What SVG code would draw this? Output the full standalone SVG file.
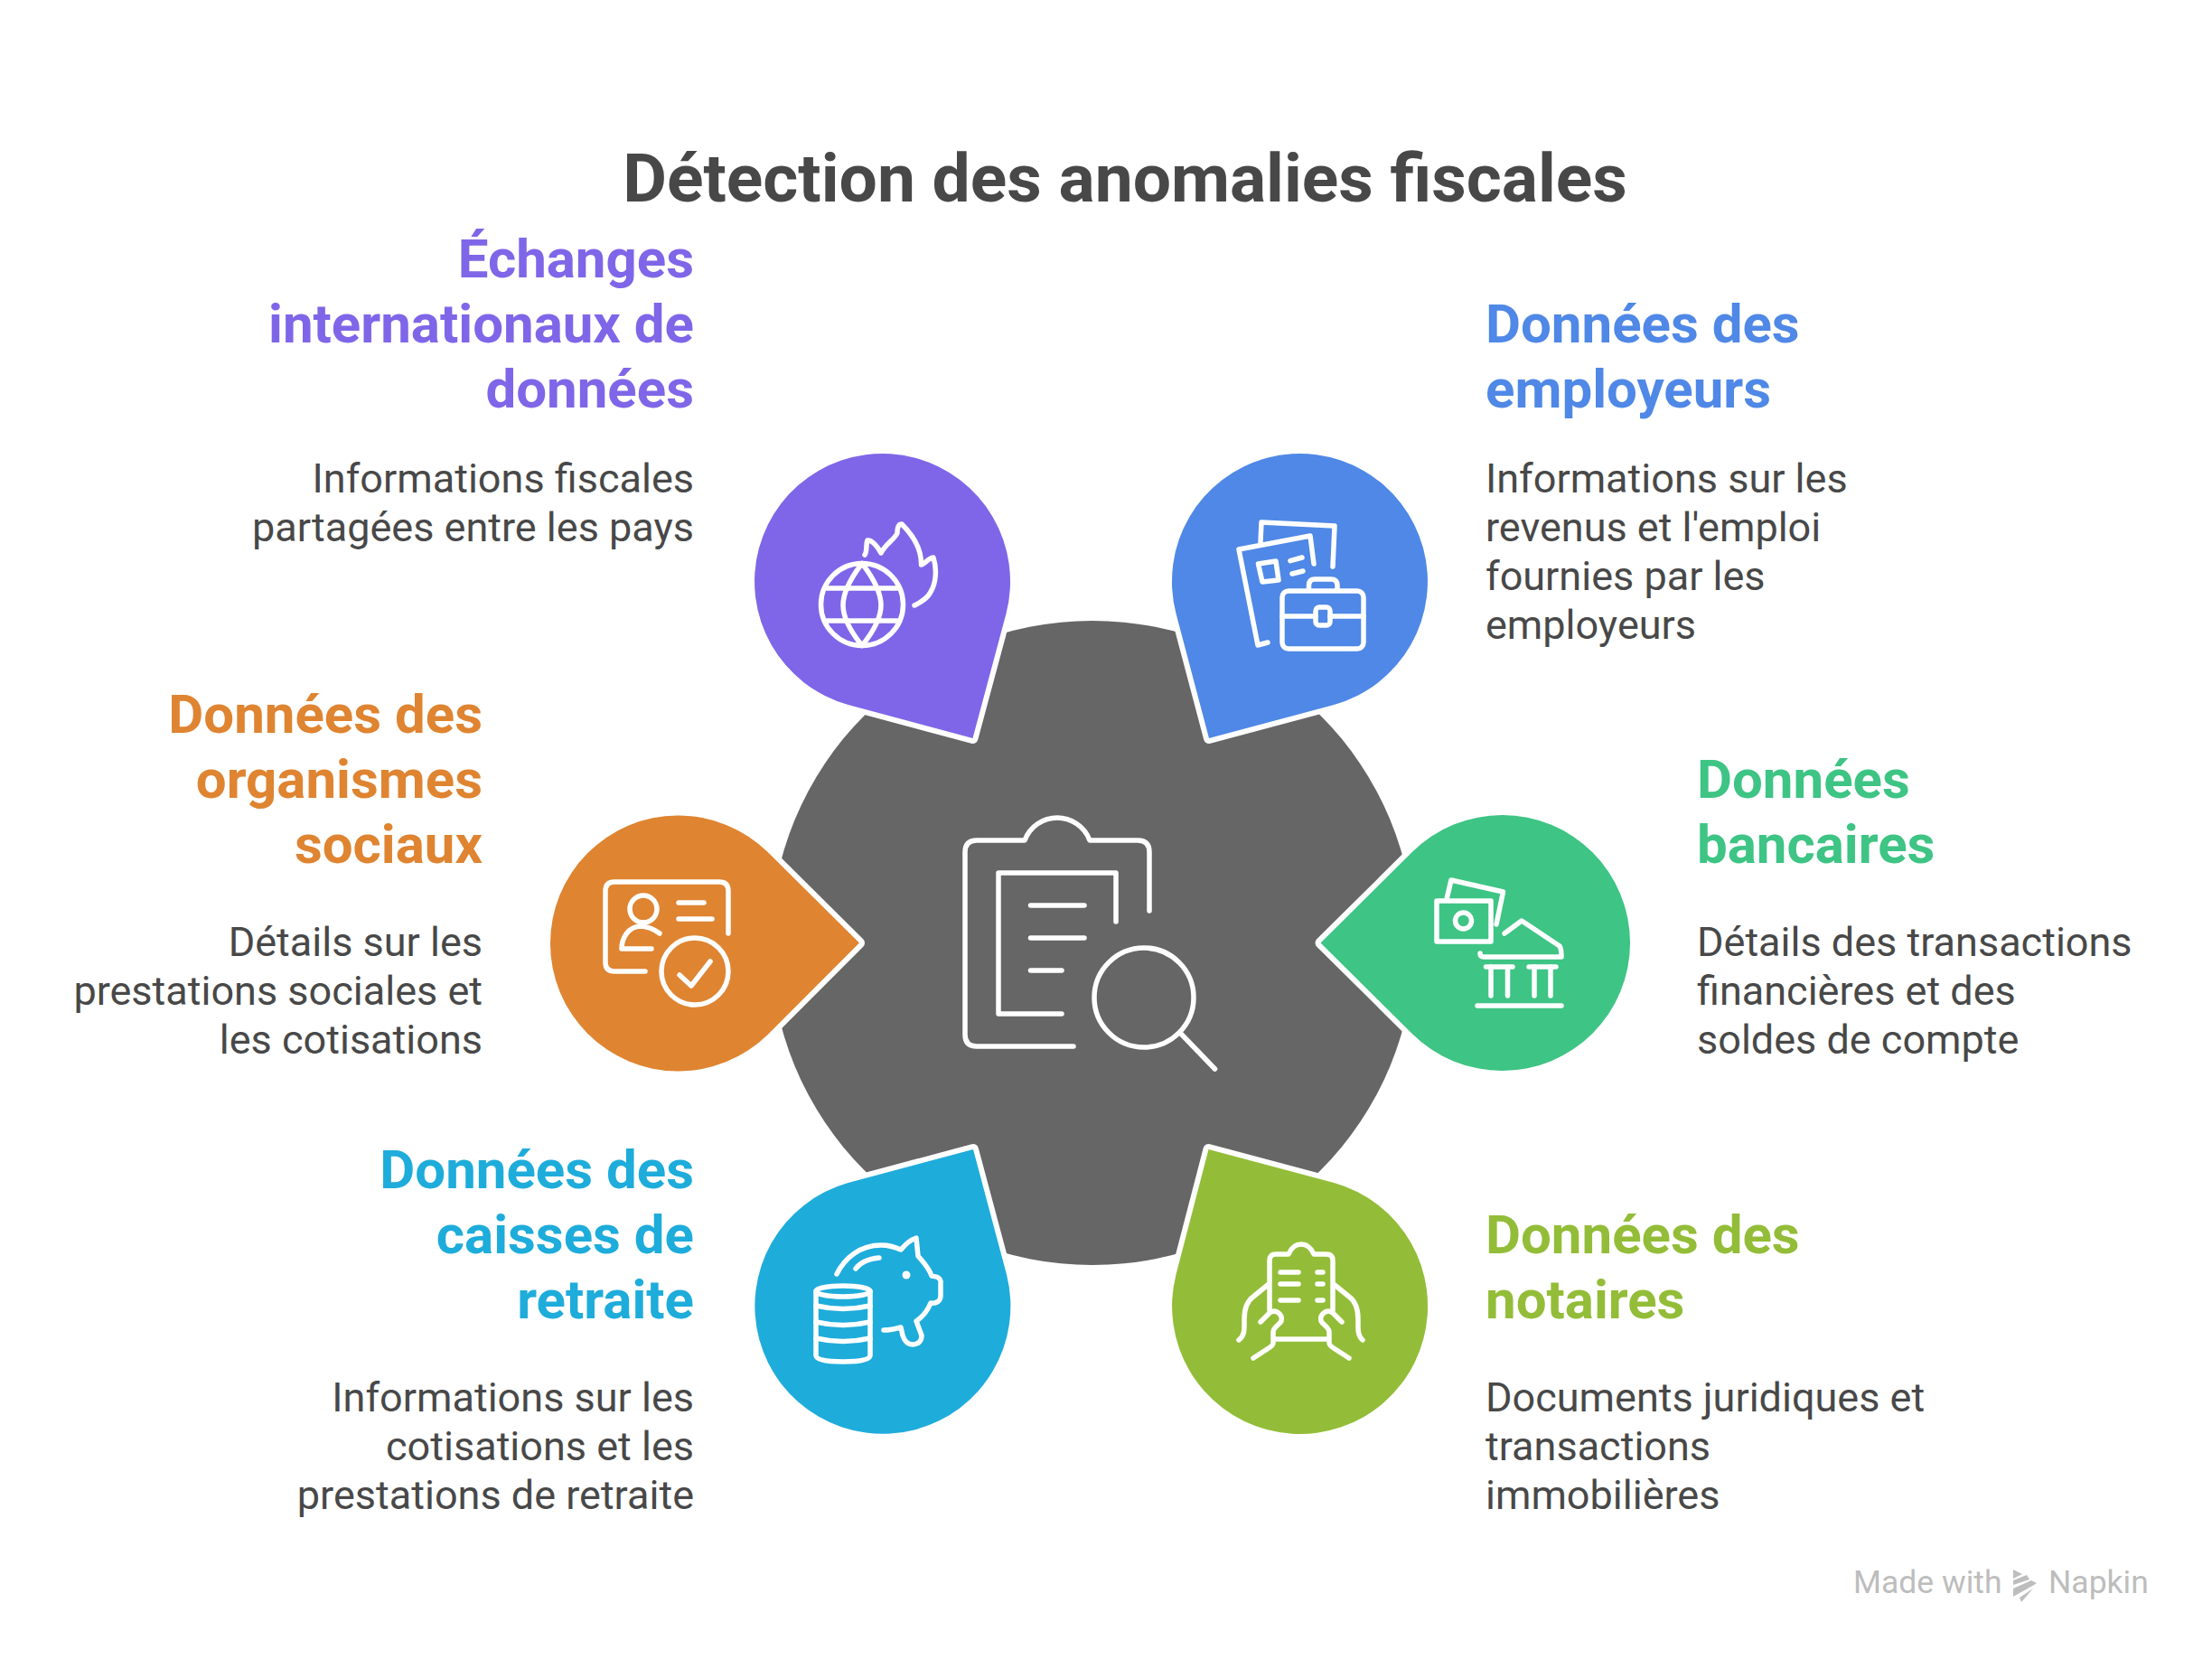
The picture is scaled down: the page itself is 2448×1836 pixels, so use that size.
<svg xmlns="http://www.w3.org/2000/svg" width="2448" height="1836" viewBox="0 0 2448 1836">
<style>
text{font-family:Roboto,"Liberation Sans",sans-serif}
.title{font-size:75px;font-weight:700;fill:#484848;text-anchor:middle}
.h{font-size:60px;font-weight:700}
.b{font-size:45px;font-weight:400;fill:#484848}
.r{text-anchor:end}
.pin{stroke:#fff;stroke-width:12;stroke-linejoin:round;paint-order:stroke}
.i{fill:none;stroke:#fff;stroke-width:5.5;stroke-linecap:round;stroke-linejoin:round}
.foot{font-size:35.5px;fill:#bdbdbd}
</style>
<rect width="2448" height="1836" fill="#fff"/>
<text class="title" x="1245" y="223">Détection des anomalies fiscales</text>

<g id="center">
<circle cx="1209" cy="1043.5" r="356.5" fill="#666"/>
<g class="i">
<path d="M1188,1158H1081Q1068,1158 1068,1145V943Q1068,930 1081,930H1134C1140,914 1155,905 1170,905C1185,905 1200,914 1206,930H1259Q1272,930 1272,943V1008"/>
<path d="M1235,1020V966H1105V1122H1175"/>
<path d="M1140.5,1002H1200M1140.5,1038H1200M1140.5,1074H1175"/>
<circle cx="1266" cy="1104" r="55"/>
<path d="M1306,1143L1344.5,1183"/>
</g>
</g>

<g id="node-echanges">
<path class="pin" fill="#7f66e8" d="M1076.5,817L1113.5,679.1A141.5,141.5 0 1 0 938.7,779.9Z"/>
<g class="i">
<circle cx="954" cy="669" r="45.5"/>
<path d="M954,623.5C926,660 926,680 954,714.5C982,680 982,660 954,623.5Z"/>
<path d="M915,651H993M915,687H993"/>
<path d="M957,614C960,610 958,602 960,598C965,597 972,606 975,612C980,602 990,597 993,590C993,585 994,580 998,580C1010,592 1020,608 1019.5,625C1024,624 1028,617 1033,617C1037,630 1036,645 1030,655C1026,663 1018,667 1012,670"/>
</g>
<text class="h r" fill="#7f66e8"><tspan x="768" y="307">Échanges</tspan><tspan x="768" y="379">internationaux de</tspan><tspan x="768" y="451">données</tspan></text>
<text class="b r"><tspan x="768" y="545">Informations fiscales</tspan><tspan x="768" y="599">partagées entre les pays</tspan></text>
</g>

<g id="node-employeurs">
<path class="pin" fill="#4f88e6" d="M1338,817L1301.5,679.1A141.5,141.5 0 1 1 1476.3,779.9Z"/>
<g class="i">
<path d="M1395,600L1396,578L1477,582L1475,627"/>
<path d="M1454,624L1450,593L1371,608L1392,714L1403,711"/>
<path d="M1392.5,624L1412,621L1415,642L1397,644Z"/>
<path d="M1428,620.7L1441,617M1430,635L1442,632"/>
<rect x="1419" y="654" width="90" height="64" rx="7"/>
<path d="M1448.5,653V648Q1448.5,641 1455,641H1473Q1480,641 1480,648V653"/>
<path d="M1419,682H1456M1472,682H1509"/>
<rect x="1456" y="672" width="16" height="20" rx="4"/>
</g>
<text class="h" fill="#4f88e6"><tspan x="1644" y="379">Données des</tspan><tspan x="1644" y="451">employeurs</tspan></text>
<text class="b"><tspan x="1644" y="545">Informations sur les</tspan><tspan x="1644" y="599">revenus et l'emploi</tspan><tspan x="1644" y="653">fournies par les</tspan><tspan x="1644" y="707">employeurs</tspan></text>
</g>

<g id="node-organismes">
<path class="pin" fill="#df8431" d="M951,1043.5L849.7,943.1A141.5,141.5 0 1 0 849.7,1144.9Z"/>
<g class="i">
<path d="M714,1075H680Q670,1075 670,1065V986Q670,976 680,976H796Q806,976 806,986V1033"/>
<circle cx="712" cy="1006" r="15"/>
<path d="M730,1033C722,1027 716,1025 708,1025C696,1026 688,1037 688,1050H721"/>
<path d="M751,999H779M751,1017H788"/>
<circle cx="769" cy="1075" r="37"/>
<path d="M752,1079L765,1091L786,1064"/>
</g>
<text class="h r" fill="#df8431"><tspan x="534" y="811">Données des</tspan><tspan x="534" y="883">organismes</tspan><tspan x="534" y="955">sociaux</tspan></text>
<text class="b r"><tspan x="534" y="1058">Détails sur les</tspan><tspan x="534" y="1112">prestations sociales et</tspan><tspan x="534" y="1166">les cotisations</tspan></text>
</g>

<g id="node-bancaires">
<path class="pin" fill="#3ec484" d="M1461.5,1043.5L1562.8,943.1A141.5,141.5 0 1 1 1562.8,1143.9Z"/>
<g class="i">
<path d="M1601,995L1606,974L1663.5,987L1656,1023"/>
<rect x="1590" y="997" width="60" height="45"/>
<circle cx="1619.5" cy="1019" r="9"/>
<path d="M1665,1033L1684,1019L1726,1047Q1728,1050 1728,1059H1642Q1638,1059 1638,1055"/>
<path d="M1644.5,1070H1674M1692,1070H1722"/>
<path d="M1650,1070V1102M1668.5,1070V1102M1698,1070V1102M1716,1070V1102"/>
<path d="M1635,1113H1728"/>
</g>
<text class="h" fill="#3ec484"><tspan x="1878" y="883">Données</tspan><tspan x="1878" y="955">bancaires</tspan></text>
<text class="b"><tspan x="1878" y="1058">Détails des transactions</tspan><tspan x="1878" y="1112">financières et des</tspan><tspan x="1878" y="1166">soldes de compte</tspan></text>
</g>

<g id="node-retraite">
<path class="pin" fill="#1eacdb" d="M1077,1272L1114,1410.4A141.5,141.5 0 1 1 938.7,1309.1Z"/>
<g class="i">
<ellipse cx="933" cy="1429" rx="30" ry="6"/>
<path d="M903,1429V1500Q903,1507 933,1507Q963,1507 963,1500V1429"/>
<path d="M903,1445Q933,1452 963,1445M903,1463Q933,1470 963,1463M903,1481Q933,1488 963,1481"/>
<path d="M926,1410C935,1392 952,1378 975,1378C985,1378 990,1380 997,1383C1002,1377 1008,1372 1014,1370L1016,1390C1022,1397 1028,1403 1031,1412C1036,1413 1040,1413 1041,1418V1434C1041,1440 1036,1443 1030,1442C1026,1452 1020,1458 1014,1462L1020,1478C1020,1486 1014,1488 1010,1488C1004,1488 1001,1484 999,1478L997,1469C990,1471 985,1472 978,1472"/>
<path d="M947,1404C952,1397 962,1393 973,1392"/>
</g>
<circle cx="1003" cy="1411" r="4.5" fill="#fff"/>
<text class="h r" fill="#1eacdb"><tspan x="768" y="1315">Données des</tspan><tspan x="768" y="1387">caisses de</tspan><tspan x="768" y="1459">retraite</tspan></text>
<text class="b r"><tspan x="768" y="1562">Informations sur les</tspan><tspan x="768" y="1616">cotisations et les</tspan><tspan x="768" y="1670">prestations de retraite</tspan></text>
</g>

<g id="node-notaires">
<path class="pin" fill="#93bd38" d="M1337.5,1272L1301.5,1410.4A141.5,141.5 0 1 0 1476.3,1309.1Z"/>
<g class="i">
<path d="M1405,1450V1395Q1405,1388 1412,1388H1426C1429,1381 1434,1377 1440,1377C1446,1377 1451,1381 1454,1388H1468Q1475,1388 1475,1395V1450"/>
<path d="M1410,1482H1470"/>
<path d="M1417,1408H1437M1417,1421H1437M1417,1439H1437M1458,1408H1464M1458,1421H1464M1458,1439H1464"/>
<path d="M1371,1483C1378,1478 1377,1470 1377,1460C1377,1448 1380,1440 1387,1435L1403,1422"/>
<path d="M1395,1463L1405,1453C1412,1448 1420,1455 1418,1462C1416,1466 1409,1469 1409,1474V1486Q1409,1489 1404,1492L1387,1503"/>
<path d="M1508,1483C1502,1478 1503,1470 1503,1460C1503,1448 1500,1440 1493,1435L1477,1422"/>
<path d="M1485,1463L1475,1453C1468,1448 1460,1455 1462,1462C1464,1466 1471,1469 1471,1474V1486Q1471,1489 1476,1492L1493,1503"/>
</g>
<text class="h" fill="#93bd38"><tspan x="1644" y="1387">Données des</tspan><tspan x="1644" y="1459">notaires</tspan></text>
<text class="b"><tspan x="1644" y="1562">Documents juridiques et</tspan><tspan x="1644" y="1616">transactions</tspan><tspan x="1644" y="1670">immobilières</tspan></text>
</g>

<g id="watermark">
<text class="foot" x="2051" y="1763">Made with</text>
<path fill="#bdbdbd" d="M2228,1737L2238,1742L2228,1747ZM2228,1749L2243,1743L2246,1748L2228,1754ZM2228,1758L2248,1749L2254,1752L2251,1754L2228,1767ZM2235,1768L2250,1758L2237,1773Z"/>
<text class="foot" x="2267" y="1763">Napkin</text>
</g>
</svg>
